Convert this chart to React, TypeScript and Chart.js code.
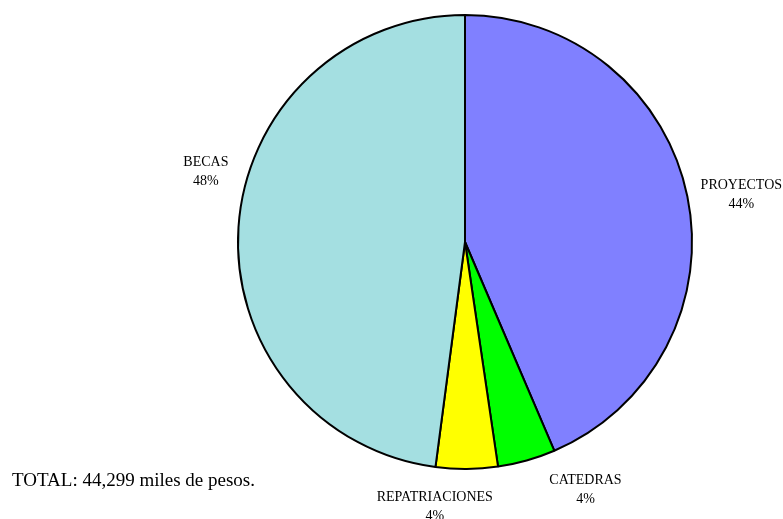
import React, { useEffect, useRef } from "react";
import { Chart, registerables } from "chart.js";

Chart.register(...registerables);

const categories = ["PROYECTOS", "CATEDRAS", "REPATRIACIONES", "BECAS"];
const values = [19300, 1820, 1950, 21229];
const colors = ["#8080FF", "#00FF00", "#FFFF00", "#A4DFE1"];
const totalText = "TOTAL: 44,299 miles de pesos.";
// label placement: angle (deg, clockwise from top) and distance as ratio of radius
const labelAngles = [80.3, 154.1, 186.5, 285.2];
const labelDist = [1.235, 1.215, 1.176, 1.183];

const FONT = '"Liberation Serif", "Times New Roman", serif';

const labelPlugin = {
  id: "pieLabels",
  afterDraw(chart: any) {
    const ctx = chart.ctx;
    const meta = chart.getDatasetMeta(0);
    const total = values.reduce((a, b) => a + b, 0);
    ctx.save();
    ctx.fillStyle = "#000";
    ctx.textAlign = "center";
    ctx.textBaseline = "middle";
    ctx.font = `14px ${FONT}`;
    meta.data.forEach((arc: any, i: number) => {
      const { x, y, outerRadius } = arc.getProps(["x", "y", "outerRadius"], true);
      const a = (labelAngles[i] * Math.PI) / 180;
      const d = outerRadius * labelDist[i];
      const cx = x + Math.sin(a) * d;
      const cy = y - Math.cos(a) * d;
      const pct = Math.round((values[i] / total) * 100) + "%";
      ctx.fillText(categories[i], cx, cy - 9.5);
      ctx.fillText(pct, cx, cy + 9.5);
    });
    ctx.textAlign = "left";
    ctx.textBaseline = "alphabetic";
    ctx.font = `19px ${FONT}`;
    ctx.fillText(totalText, 12, 486);
    ctx.restore();
  },
};

export default function App() {
  const ref = useRef<HTMLCanvasElement>(null);
  useEffect(() => {
    if (!ref.current) return;
    const chart = new Chart(ref.current, {
      type: "pie",
      data: {
        labels: categories,
        datasets: [
          {
            data: values,
            backgroundColor: colors,
            borderColor: "#000",
            borderWidth: 2,
            borderAlign: "center",
          },
        ],
      },
      options: {
        responsive: false,
        animation: false,
        layout: { padding: { left: 237, right: 90, top: 14, bottom: 49 } },
        plugins: {
          legend: { display: false },
          tooltip: { enabled: false },
          title: { display: false },
        },
      },
      plugins: [labelPlugin],
    });
    return () => chart.destroy();
  }, []);
  return (
    <div style={{ position: "fixed", left: 0, top: 0, width: 783, height: 519, background: "#fff" }}>
      <canvas ref={ref} width={783} height={519} style={{ width: 783, height: 519 }} />
    </div>
  );
}
